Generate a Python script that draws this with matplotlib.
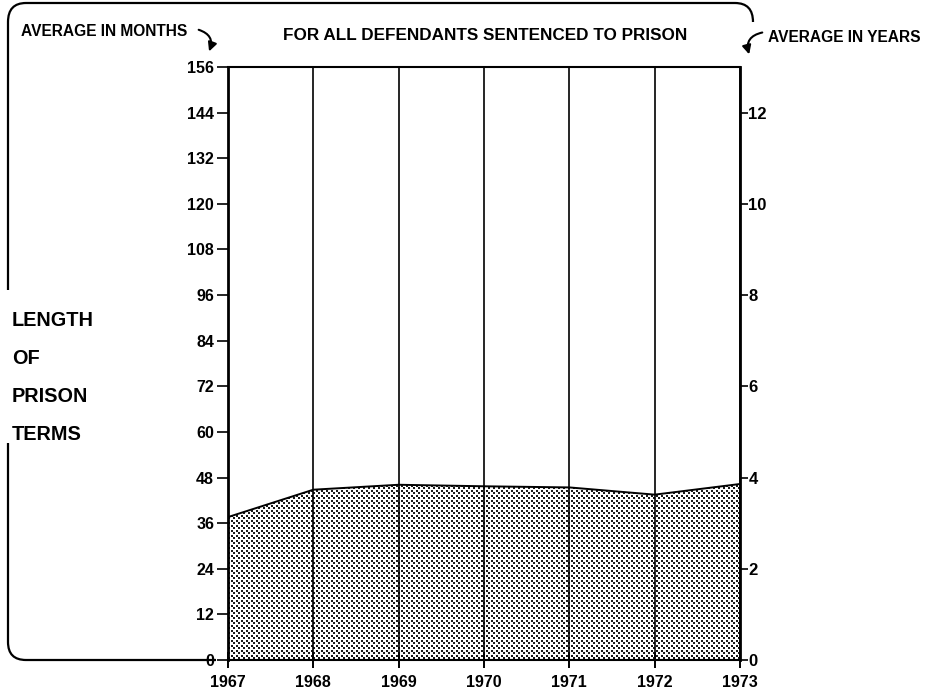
import numpy as np
import matplotlib.pyplot as plt
from matplotlib.path import Path
from matplotlib.patches import PathPatch, FancyArrowPatch

plt.rcParams['font.family'] = ['Liberation Sans', 'DejaVu Sans']
plt.rcParams['font.weight'] = 'bold'

years = [1967, 1968, 1969, 1970, 1971, 1972, 1973]
months = [37.6, 44.8, 46.1, 45.7, 45.4, 43.5, 46.3]
month_ticks = list(range(0, 157, 12))
month_labels = [str(m) for m in month_ticks]
year_ticks = list(range(0, 13, 2))
year_labels = [str(y) for y in year_ticks]

W, H = 942, 696
fig = plt.figure(figsize=(W / 100, H / 100), dpi=100)


def fx(x):
    return x / W


def fy(y):
    return 1 - y / H


ax = fig.add_axes([fx(228), fy(660), 512 / W, 593 / H])

# stippled area: a dot screen clipped to the area under the line
fill = ax.fill_between(years, months, 0, facecolor='none', edgecolor='none')
jj, ii = np.indices((593, 512))
dots = (((ii % 5) < 2) & ((jj % 5) < 2)) | (((ii % 5) > 2) & ((jj % 5) > 2))
screen = np.where(dots, 0.1, 1.0)
im = ax.imshow(screen, extent=[years[0], years[-1], 0, 156], aspect='auto',
               cmap='gray', vmin=0, vmax=1, interpolation='nearest', zorder=1)
im.set_clip_path(fill.get_paths()[0], transform=ax.transData)

ax.plot(years, months, color='black', lw=1.4, zorder=3)
for yr in years:
    ax.axvline(yr, color='black', lw=1.2, zorder=2)

ax.set_xlim(years[0], years[-1])
ax.set_ylim(0, 156)
ax.set_xticks(years)
ax.set_xticklabels([str(y) for y in years])
ax.set_yticks(month_ticks)
ax.set_yticklabels(month_labels)
ax.tick_params(axis='y', direction='out', length=8, width=1.2, pad=2, labelsize=11.5)
ax.tick_params(axis='x', direction='inout', length=12, width=1.4, pad=5, labelsize=11.5)
for s in ['left', 'right']:
    ax.spines[s].set_linewidth(2)
for s in ['top', 'bottom']:
    ax.spines[s].set_linewidth(1.5)

ax2 = ax.twinx()
ax2.set_ylim(0, 13)
ax2.set_yticks(year_ticks)
ax2.set_yticklabels(year_labels)
ax2.tick_params(axis='y', direction='out', length=6, width=1.2, pad=0, labelsize=12)
for s in ax2.spines.values():
    s.set_visible(False)

# bracket frame around the chart
def bracket(pts, codes):
    verts = [(fx(x), fy(y)) for x, y in pts]
    p = PathPatch(Path(verts, codes), transform=fig.transFigure, fill=False,
                  lw=1.6, edgecolor='black')
    fig.patches.append(p)


M, L, C = Path.MOVETO, Path.LINETO, Path.CURVE3
bracket([(8, 290), (8, 22), (8, 3), (26, 3), (735, 3), (753, 3), (753, 22)],
        [M, L, C, C, L, C, C])
bracket([(8, 443), (8, 642), (8, 660), (26, 660), (216, 660)],
        [M, L, C, C, L])

# curved arrows
a1 = FancyArrowPatch((fx(196), fy(29)), (fx(208), fy(54)), transform=fig.transFigure,
                     connectionstyle='arc3,rad=-0.6', arrowstyle='-|>',
                     mutation_scale=13, lw=1.5, color='black')
a2 = FancyArrowPatch((fx(765), fy(32)), (fx(750), fy(57)), transform=fig.transFigure,
                     connectionstyle='arc3,rad=0.6', arrowstyle='-|>',
                     mutation_scale=13, lw=1.5, color='black')
fig.patches.extend([a1, a2])

fig.text(fx(21), fy(32), 'AVERAGE IN MONTHS', fontsize=11.2, ha='left', va='center')
fig.text(fx(485), fy(35), 'FOR ALL DEFENDANTS SENTENCED TO PRISON', fontsize=12.3,
         ha='center', va='center')
fig.text(fx(768), fy(37), 'AVERAGE IN YEARS', fontsize=11.2, ha='left', va='center')
for word, ypos in zip(['LENGTH', 'OF', 'PRISON', 'TERMS'], [320, 358, 396, 434]):
    fig.text(fx(12), fy(ypos), word, fontsize=14.3, ha='left', va='center')

fig.savefig('out.png', dpi=100)
